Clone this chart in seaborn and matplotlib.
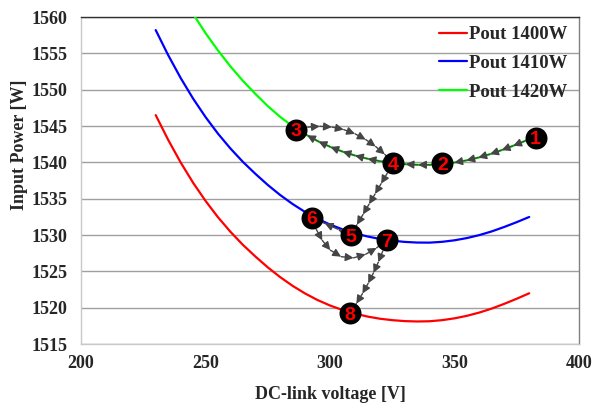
import numpy as np
import pandas as pd
import matplotlib
matplotlib.use("Agg")
import matplotlib.pyplot as plt
import seaborn as sns

# ---------------------------------
# Data
# ---------------------------------
voltage = [230, 235, 240, 245, 250, 255, 260, 265, 270, 275, 280, 285, 290, 295, 300, 305,
           310, 315, 320, 325, 330, 335, 340, 345, 350, 355, 360, 365, 370, 375, 380]
p_1400 = [1546.50, 1543.10, 1540.00, 1537.20, 1534.70, 1532.45, 1530.45, 1528.65, 1527.05,
          1525.55, 1524.20, 1523.00, 1521.95, 1521.05, 1520.30, 1519.68, 1519.18, 1518.78,
          1518.48, 1518.28, 1518.15, 1518.10, 1518.13, 1518.28, 1518.53, 1518.88, 1519.33,
          1519.88, 1520.53, 1521.23, 1521.98]
p_1410 = [1558.20, 1554.76, 1551.62, 1548.78, 1546.24, 1543.95, 1541.91, 1540.07, 1538.43,
          1536.89, 1535.50, 1534.26, 1533.17, 1532.23, 1531.44, 1530.78, 1530.24, 1529.80,
          1529.46, 1529.22, 1529.05, 1528.96, 1528.95, 1529.06, 1529.27, 1529.58, 1529.99,
          1530.50, 1531.11, 1531.77, 1532.48]
voltage_1420 = [240, 245, 250, 255, 260, 265, 270, 275, 280, 285, 290, 295, 300, 305,
                310, 315, 320, 325, 330, 335, 340, 345, 350, 355, 360, 365, 370, 375, 380]
p_1420 = [1563.32, 1560.43, 1557.79, 1555.40, 1553.21, 1551.22, 1549.43, 1547.74, 1546.25,
          1544.96, 1543.87, 1542.93, 1542.14, 1541.48, 1540.94, 1540.50, 1540.16, 1539.92,
          1539.75, 1539.66, 1539.65, 1539.76, 1539.97, 1540.28, 1540.69, 1541.20, 1541.81,
          1542.47, 1543.18]

series_names = ["Pout 1400W", "Pout 1410W", "Pout 1420W"]
series_colors = ["#ff0000", "#0000ff", "#00ff00"]

# numbered operating points
op_labels = ["1", "2", "3", "4", "5", "6", "7", "8"]
op_v = [382.6, 345.1, 286.3, 325.4, 308.4, 292.6, 322.7, 308.0]
op_p = [1543.4, 1539.9, 1544.5, 1539.9, 1530.0, 1532.4, 1529.3, 1519.2]

x_ticks = [200, 250, 300, 350, 400]
y_ticks = [1515, 1520, 1525, 1530, 1535, 1540, 1545, 1550, 1555, 1560]

# long-form table for seaborn
df = pd.concat([
    pd.DataFrame({"V": voltage, "P": p_1400, "series": series_names[0]}),
    pd.DataFrame({"V": voltage, "P": p_1410, "series": series_names[1]}),
    pd.DataFrame({"V": voltage_1420, "P": p_1420, "series": series_names[2]}),
], ignore_index=True)

# -----------------
# Figure and style
# -----------------
sns.set_style("white")
plt.rcParams['font.family'] = ['Liberation Serif', 'DejaVu Serif']
plt.rcParams['font.weight'] = 'bold'

fig = plt.figure(figsize=(5.95, 4.04), dpi=100)
ax = fig.add_axes([81 / 595, 60 / 404, 498 / 595, 327 / 404])

sns.lineplot(data=df, x="V", y="P", hue="series", palette=series_colors,
             linewidth=1.6, ax=ax, zorder=3)

ax.set_xlim(200, 400)
ax.set_ylim(1515, 1560)
ax.set_xticks(x_ticks)
ax.set_yticks(y_ticks)
ax.tick_params(axis='both', length=0, labelsize=13)
ax.tick_params(axis='y', pad=10)
ax.tick_params(axis='x', pad=8)
for lab in ax.get_xticklabels() + ax.get_yticklabels():
    lab.set_fontweight('bold')

ax.yaxis.grid(True, color="#a0a0a0", linewidth=1)
ax.xaxis.grid(False)
ax.set_axisbelow(True)

ax.spines['left'].set_color("#c8c8c8")
ax.spines['bottom'].set_color("#c8c8c8")
ax.spines['right'].set_color("#808080")
ax.spines['top'].set_color("#303030")
for s in ax.spines.values():
    s.set_linewidth(1)

ax.set_xlabel("DC-link voltage [V]", fontsize=13, fontweight='bold', labelpad=10)
ax.set_ylabel("Input Power [W]", fontsize=13, fontweight='bold')
ax.yaxis.set_label_coords(-0.106, 0.61)

handles, labels = ax.get_legend_handles_labels()
ax.legend(handles, labels, loc="upper right", bbox_to_anchor=(0.976, 0.972),
          frameon=False, borderpad=0, borderaxespad=0, handlelength=1.5,
          handletextpad=0.1, labelspacing=0.62,
          prop={'family': 'Liberation Serif', 'weight': 'bold', 'size': 13.5})


# --------------------------------------
# Transition arrows between the points
# --------------------------------------
def bezier(p0, c, p1, n=80):
    t = np.linspace(0, 1, n)[:, None]
    return (1 - t) ** 2 * np.array(p0) + 2 * (1 - t) * t * np.array(c) + t ** 2 * np.array(p1)


def along_green(i, j, n=80):
    xs = np.linspace(op_v[i], op_v[j], n)
    ys = np.interp(xs, voltage_1420, p_1420)
    ys[0], ys[-1] = op_p[i], op_p[j]
    return np.column_stack([xs, ys])


def pt(i):
    return (op_v[i], op_p[i])


def draw_chain(xy, step=12.5):
    disp = ax.transData.transform(xy)
    seg = np.hypot(*np.diff(disp, axis=0).T)
    s = np.concatenate([[0], np.cumsum(seg)])
    n = max(2, int(round(s[-1] / step)))
    st = np.linspace(0, s[-1], n + 1)
    px = np.interp(st, s, disp[:, 0])
    py = np.interp(st, s, disp[:, 1])
    pts = ax.transData.inverted().transform(np.column_stack([px, py]))
    for a, b in zip(pts[:-1], pts[1:]):
        ax.annotate("", xy=b, xytext=a, zorder=4,
                    arrowprops=dict(arrowstyle="-|>", color="#454545", lw=1,
                                    mutation_scale=12, shrinkA=0, shrinkB=0))


paths = [
    along_green(0, 1),                               # 1 -> 2
    along_green(1, 3),                               # 2 -> 4
    along_green(3, 2),                               # 4 -> 3
    bezier(pt(2), (308.0, 1546.5), pt(3)),           # 3 -> 4 (upper arc)
    bezier(pt(3), np.add(pt(3), pt(4)) / 2, pt(4)),  # 4 -> 5
    bezier(pt(4), np.add(pt(4), pt(5)) / 2, pt(5)),  # 5 -> 6
    bezier(pt(5), (302.0, 1523.1), pt(6)),           # 6 -> 7 (lower arc)
    bezier(pt(6), (318.1, 1524.3), pt(7)),           # 7 -> 8
]
for p in paths:
    draw_chain(p)

# numbered markers
ax.scatter(op_v, op_p, s=220, color="black", zorder=5)
for lab, v, p in zip(op_labels, op_v, op_p):
    ax.text(v, p, lab, color="red", fontsize=14, fontweight='bold',
            family=['Liberation Sans', 'DejaVu Sans'],
            ha='center', va='center_baseline', zorder=6)

fig.savefig("out.png", dpi=100)
